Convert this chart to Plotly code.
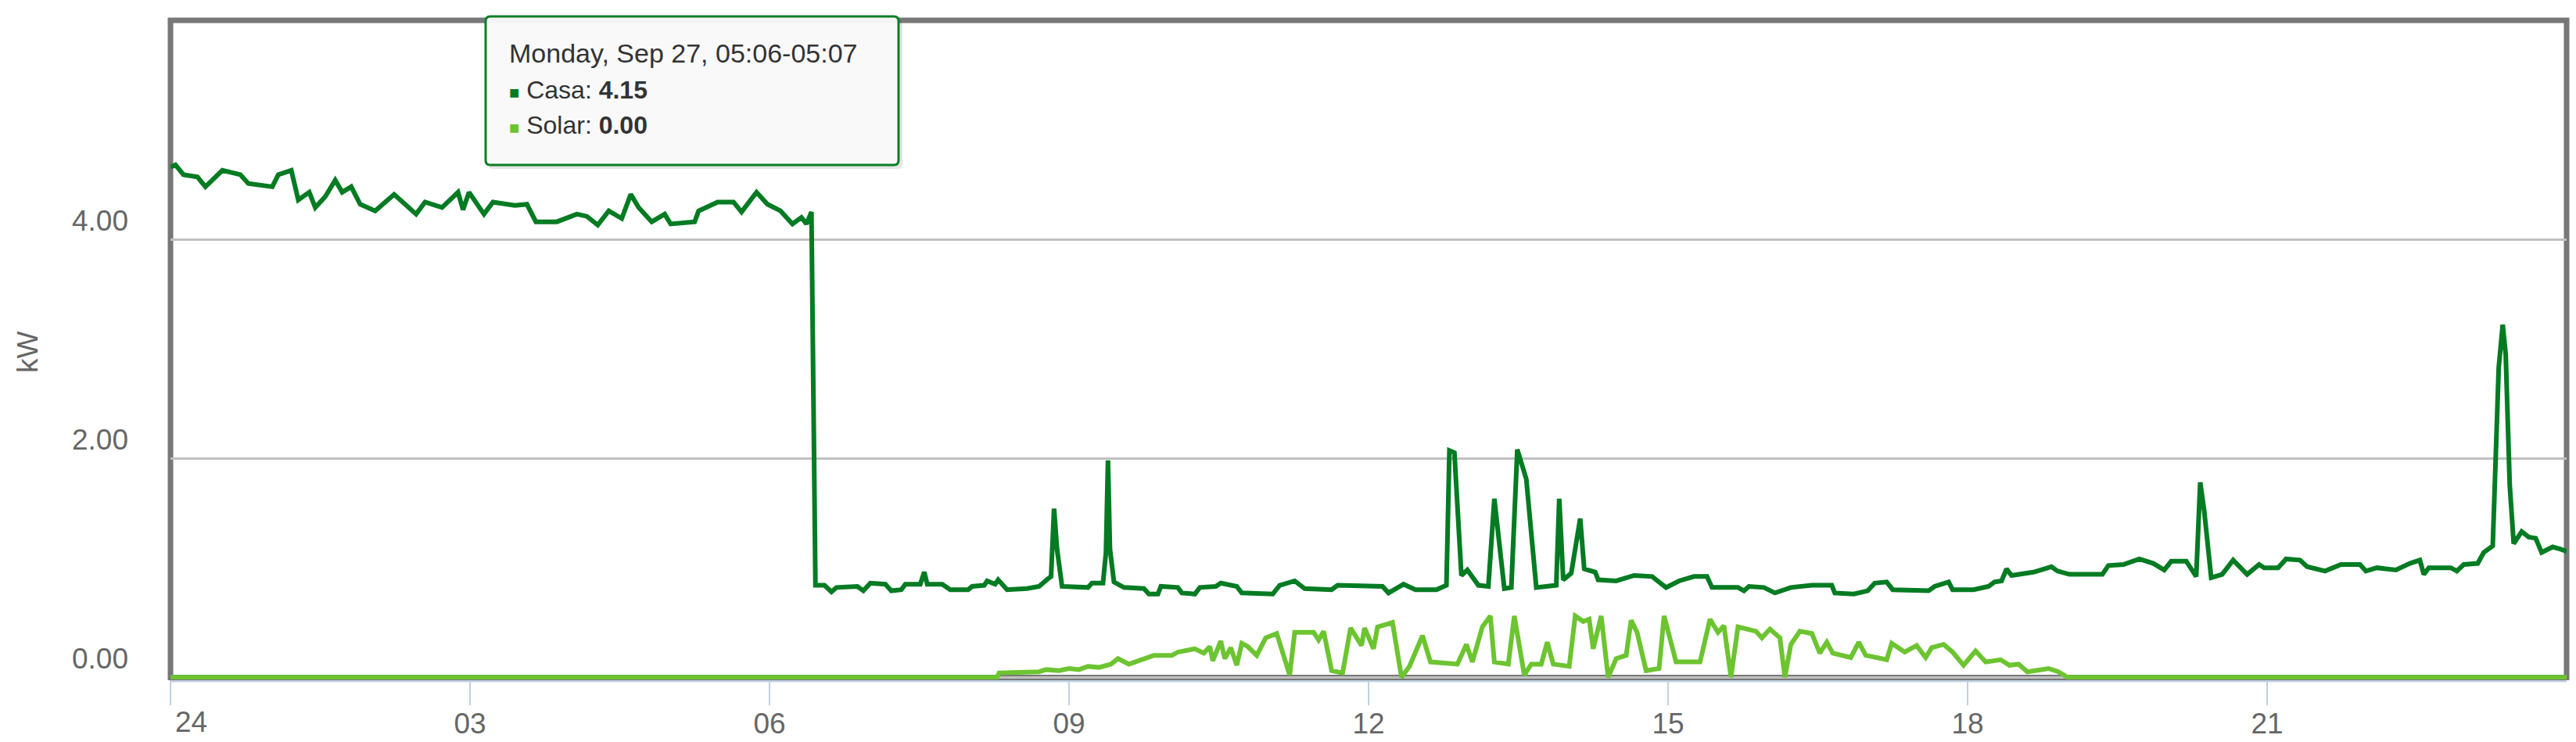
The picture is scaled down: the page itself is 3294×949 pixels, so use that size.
import plotly.graph_objects as go

# Casa (household load) readings, (hour of day, kW)
casa_readings = [
    (0.00, 4.66), (0.05, 4.68), (0.13, 4.59), (0.27, 4.57), (0.35, 4.48), (0.52, 4.63),
    (0.70, 4.59), (0.78, 4.51), (1.02, 4.48), (1.08, 4.59), (1.21, 4.63), (1.28, 4.36),
    (1.39, 4.43), (1.45, 4.29), (1.55, 4.39), (1.65, 4.54), (1.72, 4.43), (1.81, 4.48),
    (1.90, 4.32), (2.05, 4.26), (2.24, 4.41), (2.46, 4.23), (2.55, 4.34), (2.72, 4.29),
    (2.88, 4.43), (2.93, 4.27), (2.99, 4.43), (3.14, 4.23), (3.23, 4.34), (3.45, 4.31),
    (3.57, 4.32), (3.66, 4.16), (3.87, 4.16), (4.07, 4.23), (4.17, 4.21), (4.28, 4.13),
    (4.39, 4.26), (4.52, 4.19), (4.61, 4.41), (4.69, 4.29), (4.82, 4.16), (4.95, 4.23),
    (5.01, 4.14), (5.25, 4.16), (5.29, 4.26), (5.48, 4.34), (5.64, 4.34), (5.72, 4.25),
    (5.87, 4.43), (5.98, 4.32), (6.11, 4.26), (6.23, 4.14), (6.32, 4.20), (6.37, 4.14),
    (6.42, 4.25), (6.46, 0.84), (6.55, 0.84), (6.62, 0.78), (6.67, 0.82), (6.88, 0.83),
    (6.94, 0.79), (7.01, 0.86), (7.16, 0.85), (7.22, 0.79), (7.32, 0.80), (7.36, 0.85),
    (7.51, 0.85), (7.55, 0.96), (7.58, 0.85), (7.73, 0.85), (7.81, 0.80), (7.99, 0.80),
    (8.03, 0.83), (8.15, 0.84), (8.18, 0.88), (8.26, 0.85), (8.29, 0.89), (8.38, 0.80),
    (8.58, 0.81), (8.70, 0.83), (8.79, 0.90), (8.82, 0.92), (8.85, 1.54), (8.88, 1.17),
    (8.93, 0.83), (9.19, 0.82), (9.23, 0.86), (9.34, 0.86), (9.37, 1.14), (9.39, 1.98),
    (9.41, 1.17), (9.45, 0.87), (9.55, 0.82), (9.75, 0.81), (9.80, 0.76), (9.89, 0.76),
    (9.92, 0.83), (10.09, 0.82), (10.13, 0.77), (10.26, 0.76), (10.31, 0.82), (10.47, 0.83),
    (10.52, 0.86), (10.68, 0.83), (10.73, 0.77), (11.04, 0.76), (11.11, 0.84), (11.26, 0.88),
    (11.36, 0.81), (11.63, 0.80), (11.69, 0.84), (12.14, 0.83), (12.20, 0.77), (12.35, 0.85),
    (12.47, 0.80), (12.68, 0.80), (12.78, 0.84), (12.81, 2.07), (12.86, 2.05), (12.89, 1.62),
    (12.93, 0.93), (12.99, 0.98), (13.10, 0.84), (13.20, 0.83), (13.26, 1.63), (13.36, 0.81),
    (13.43, 0.82), (13.49, 2.08), (13.58, 1.81), (13.68, 0.82), (13.88, 0.84), (13.91, 1.63),
    (13.95, 0.89), (14.03, 0.95), (14.12, 1.45), (14.16, 0.99), (14.27, 0.96), (14.30, 0.89),
    (14.48, 0.88), (14.66, 0.93), (14.84, 0.92), (14.98, 0.82), (15.11, 0.88), (15.26, 0.92),
    (15.39, 0.92), (15.44, 0.82), (15.70, 0.82), (15.76, 0.79), (15.81, 0.83), (15.96, 0.82),
    (16.07, 0.77), (16.23, 0.82), (16.44, 0.84), (16.64, 0.84), (16.67, 0.77), (16.86, 0.76),
    (17.00, 0.79), (17.07, 0.86), (17.19, 0.87), (17.25, 0.80), (17.61, 0.79), (17.67, 0.83),
    (17.81, 0.87), (17.85, 0.80), (18.06, 0.80), (18.21, 0.83), (18.27, 0.87), (18.34, 0.88),
    (18.39, 0.99), (18.44, 0.93), (18.66, 0.96), (18.84, 1.01), (18.90, 0.97), (19.02, 0.94),
    (19.35, 0.94), (19.41, 1.02), (19.56, 1.03), (19.72, 1.08), (19.86, 1.04), (19.97, 0.98),
    (20.04, 1.06), (20.19, 1.06), (20.29, 0.92), (20.33, 1.78), (20.37, 1.52), (20.44, 0.91),
    (20.55, 0.94), (20.66, 1.07), (20.80, 0.94), (20.92, 1.03), (20.97, 1.00), (21.11, 1.00),
    (21.19, 1.08), (21.33, 1.07), (21.40, 1.01), (21.58, 0.97), (21.74, 1.03), (21.93, 1.03),
    (21.99, 0.97), (22.10, 1.00), (22.29, 0.98), (22.43, 1.04), (22.53, 1.07), (22.57, 0.94),
    (22.62, 1.00), (22.84, 1.00), (22.90, 0.97), (22.97, 1.03), (23.11, 1.04), (23.17, 1.14),
    (23.26, 1.20), (23.32, 2.83), (23.36, 3.22), (23.39, 2.95), (23.43, 1.76), (23.47, 1.22),
    (23.51, 1.27), (23.55, 1.33), (23.62, 1.28), (23.69, 1.27), (23.75, 1.14), (23.86, 1.19),
    (23.94, 1.17), (24.00, 1.15),
]

# Solar production readings, (hour of day, kW)
solar_readings = [
    (0.00, 0.00), (8.28, 0.00), (8.30, 0.04), (8.50, 0.04), (8.70, 0.05), (8.77, 0.07),
    (8.90, 0.06), (9.00, 0.08), (9.10, 0.07), (9.19, 0.10), (9.30, 0.09), (9.42, 0.12),
    (9.49, 0.17), (9.60, 0.12), (9.75, 0.17), (9.85, 0.20), (10.03, 0.20), (10.09, 0.23),
    (10.26, 0.26), (10.35, 0.22), (10.41, 0.28), (10.44, 0.15), (10.52, 0.33), (10.56, 0.17),
    (10.62, 0.27), (10.68, 0.11), (10.73, 0.31), (10.79, 0.28), (10.88, 0.20), (10.97, 0.36),
    (11.08, 0.40), (11.21, 0.02), (11.26, 0.41), (11.45, 0.41), (11.50, 0.34), (11.55, 0.42),
    (11.63, 0.06), (11.74, 0.04), (11.82, 0.45), (11.93, 0.29), (11.96, 0.45), (12.05, 0.26),
    (12.09, 0.46), (12.24, 0.50), (12.33, 0.00), (12.41, 0.10), (12.54, 0.38), (12.62, 0.14),
    (12.89, 0.12), (12.98, 0.30), (13.04, 0.14), (13.14, 0.46), (13.22, 0.56), (13.26, 0.14),
    (13.40, 0.12), (13.46, 0.56), (13.56, 0.02), (13.63, 0.12), (13.73, 0.12), (13.79, 0.32),
    (13.85, 0.12), (14.01, 0.10), (14.07, 0.56), (14.15, 0.51), (14.21, 0.53), (14.25, 0.26),
    (14.33, 0.56), (14.40, 0.00), (14.48, 0.17), (14.58, 0.20), (14.63, 0.52), (14.69, 0.41),
    (14.78, 0.06), (14.91, 0.08), (14.96, 0.56), (15.08, 0.14), (15.32, 0.14), (15.42, 0.53),
    (15.50, 0.41), (15.56, 0.47), (15.63, 0.00), (15.70, 0.46), (15.88, 0.42), (15.94, 0.36),
    (16.02, 0.44), (16.12, 0.36), (16.17, 0.00), (16.23, 0.30), (16.32, 0.42), (16.44, 0.40),
    (16.52, 0.22), (16.59, 0.32), (16.65, 0.22), (16.83, 0.18), (16.91, 0.32), (16.98, 0.20),
    (17.19, 0.16), (17.24, 0.31), (17.37, 0.23), (17.49, 0.29), (17.58, 0.18), (17.64, 0.27),
    (17.76, 0.30), (17.85, 0.23), (17.96, 0.11), (18.08, 0.24), (18.18, 0.14), (18.33, 0.16),
    (18.42, 0.11), (18.51, 0.12), (18.60, 0.05), (18.81, 0.08), (18.91, 0.05), (19.00, 0.00),
    (24.00, 0.00),
]

x_ticks = [0, 3, 6, 9, 12, 15, 18, 21]
x_tick_labels = ["24", "03", "06", "09", "12", "15", "18", "21"]
y_ticks = [0, 2, 4]
y_tick_labels = ["0.00", "2.00", "4.00"]
y_title = "kW"

tooltip_header = "Monday, Sep 27, 05:06-05:07"
tooltip_rows = [("Casa", 4.15), ("Solar", 0.00)]

CASA_COLOR = "#037b22"
SOLAR_COLOR = "#6cc431"
LABEL_COLOR = "#666666"
FONT = "Liberation Sans, Arial, sans-serif"

W, H = 3294, 949
L, R, T, B = 210, 20, 18, 88
PLOT_W = W - L - R
PLOT_H = H - T - B


def px_x(px):
    return (px - L) / PLOT_W


def px_y(py):
    return (H - B - py) / PLOT_H


def rounded_box(x0, y0, x1, y1, r):
    """SVG path (paper coords) for a rounded rectangle given in pixels."""
    pts = [
        f"M{px_x(x0 + r)},{px_y(y0)}",
        f"L{px_x(x1 - r)},{px_y(y0)}",
        f"Q{px_x(x1)},{px_y(y0)} {px_x(x1)},{px_y(y0 + r)}",
        f"L{px_x(x1)},{px_y(y1 - r)}",
        f"Q{px_x(x1)},{px_y(y1)} {px_x(x1 - r)},{px_y(y1)}",
        f"L{px_x(x0 + r)},{px_y(y1)}",
        f"Q{px_x(x0)},{px_y(y1)} {px_x(x0)},{px_y(y1 - r)}",
        f"L{px_x(x0)},{px_y(y0 + r)}",
        f"Q{px_x(x0)},{px_y(y0)} {px_x(x0 + r)},{px_y(y0)}",
        "Z",
    ]
    return " ".join(pts)


fig = go.Figure()

fig.add_trace(go.Scatter(
    x=[t for t, _ in casa_readings], y=[v for _, v in casa_readings],
    mode="lines", name="Casa", line=dict(color=CASA_COLOR, width=6),
))
fig.add_trace(go.Scatter(
    x=[t for t, _ in solar_readings], y=[v for _, v in solar_readings],
    mode="lines", name="Solar", line=dict(color=SOLAR_COLOR, width=6),
))

fig.update_xaxes(
    range=[0, 24], tickvals=x_ticks, ticktext=[""] + x_tick_labels[1:],
    ticks="outside", ticklen=32, tickwidth=2, tickcolor="#C0D0E0",
    ticklabelstandoff=-8,
    showgrid=False, zeroline=False, showline=False,
    tickfont=dict(family=FONT, size=37, color=LABEL_COLOR),
)
# y labels sit above their grid lines, so they are placed as annotations below
fig.update_yaxes(
    range=[-0.02, 6], tickvals=y_ticks, showticklabels=False,
    ticks="", showgrid=True, gridcolor="#C0C0C0", gridwidth=3,
    zeroline=False, showline=False,
)

shapes = [
    # x axis line
    dict(type="line", xref="paper", yref="paper", x0=0, x1=1, y0=px_y(863), y1=px_y(863),
         line=dict(color="#C0D0E0", width=3), layer="below"),
    # plot border
    dict(type="rect", xref="paper", yref="paper", x0=0, x1=1, y0=0.003, y1=1,
         line=dict(color="#777777", width=7), layer="below"),
    # tooltip shadow + box
    dict(type="path", xref="paper", yref="paper", path=rounded_box(617, 17, 1146, 208, 6),
         fillcolor="rgba(0,0,0,0.10)", line=dict(width=0), layer="above"),
    dict(type="path", xref="paper", yref="paper", path=rounded_box(613, 13, 1141, 203, 6),
         fillcolor="rgba(249,249,249,0.97)", line=dict(color="#0b7f27", width=3), layer="above"),
]

annotations = [
    dict(text=x_tick_labels[0], x=x_ticks[0], xref="x", y=px_y(916), yref="paper",
         xanchor="left", yanchor="middle", xshift=4, showarrow=False,
         font=dict(family=FONT, size=37, color=LABEL_COLOR)),
    dict(text=y_title, x=px_x(28), y=px_y(442), xref="paper", yref="paper",
         textangle=-90, xanchor="center", yanchor="middle", showarrow=False,
         font=dict(family=FONT, size=37, color=LABEL_COLOR)),
    dict(text=tooltip_header, x=px_x(641), y=px_y(60), xref="paper", yref="paper",
         xanchor="left", yanchor="middle", showarrow=False,
         font=dict(family=FONT, size=34, color="#333333")),
]
for val, label in zip(y_ticks, y_tick_labels):
    annotations.append(dict(
        text=label, x=px_x(158), xref="paper", y=val, yref="y",
        xanchor="right", yanchor="middle", yshift=24, showarrow=False,
        font=dict(family=FONT, size=37, color=LABEL_COLOR),
    ))
row_colors = [CASA_COLOR, SOLAR_COLOR]
for i, (name, value) in enumerate(tooltip_rows):
    annotations.append(dict(
        text=(f'<span style="color:{row_colors[i]};font-size:22px">■</span> '
              f'{name}: <b>{value:.2f}</b>'),
        x=px_x(641), y=px_y(107 + 45 * i), xref="paper", yref="paper",
        xanchor="left", yanchor="middle", showarrow=False,
        font=dict(family=FONT, size=32, color="#333333"),
    ))

fig.update_layout(
    width=W, height=H,
    margin=dict(l=L, r=R, t=T, b=B),
    plot_bgcolor="white", paper_bgcolor="white",
    showlegend=False, hovermode=False,
    shapes=shapes, annotations=annotations,
)

fig.write_html("out.html")
